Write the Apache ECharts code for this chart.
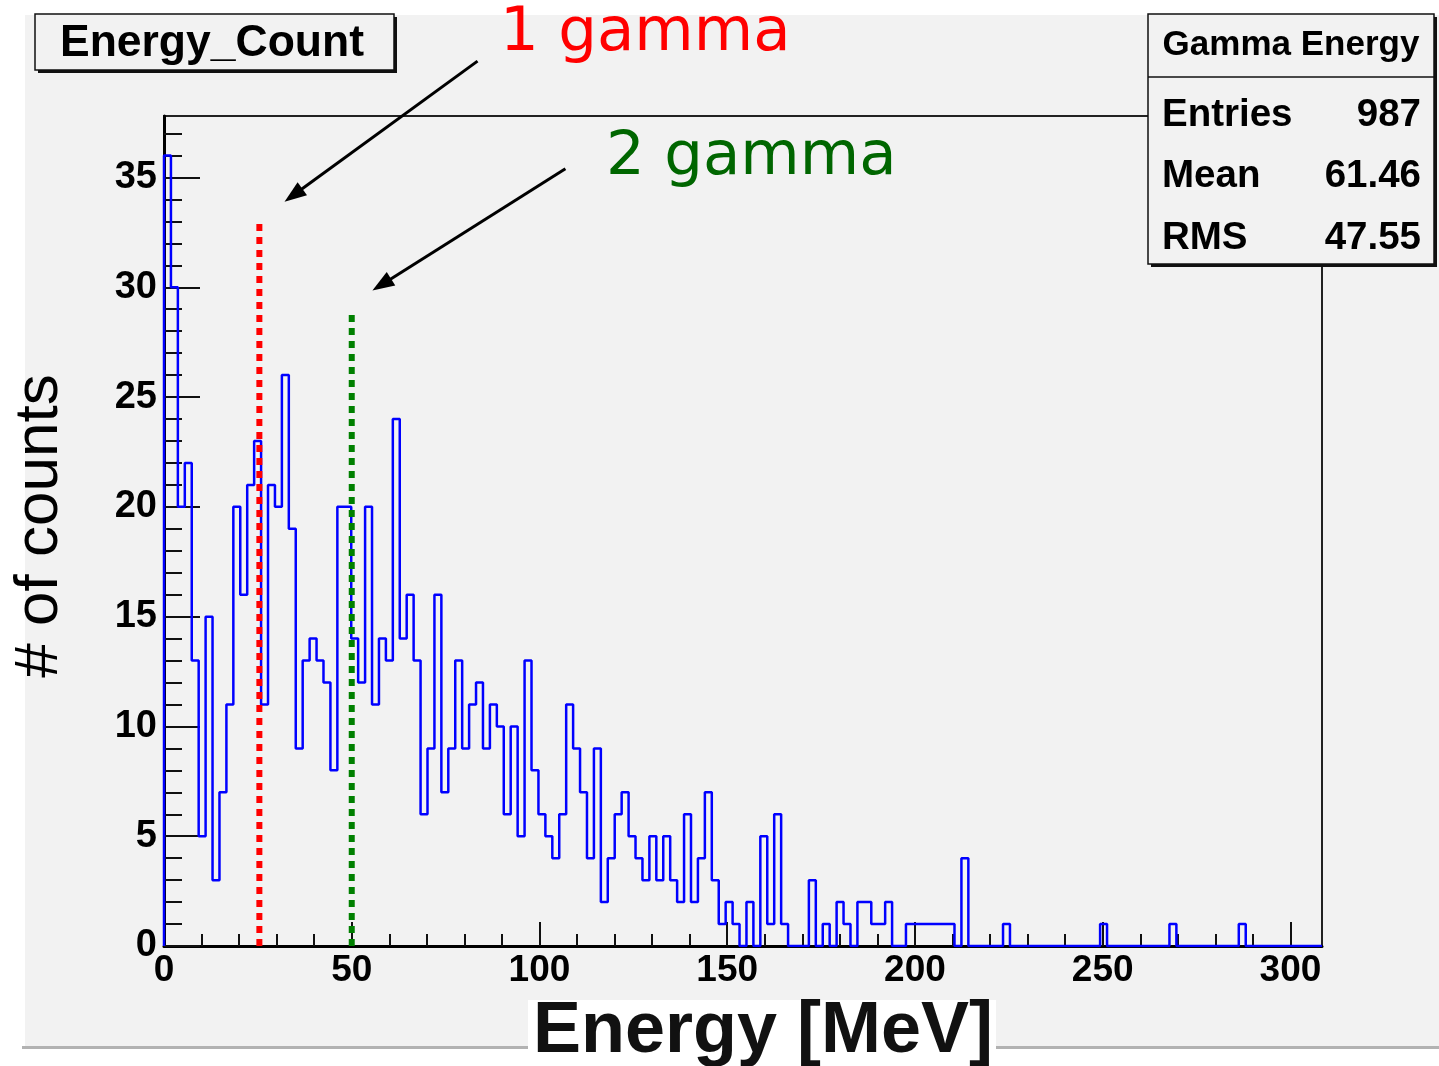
<!DOCTYPE html>
<html>
<head>
<meta charset="utf-8">
<title>Energy_Count</title>
<script src="https://cdn.jsdelivr.net/npm/echarts@6/dist/echarts.min.js"></script>
<style>
  html, body { margin: 0; padding: 0; background: #ffffff; }
  #chart { width: 1439px; height: 1066px; }
</style>
</head>
<body>
<div id="chart"></div>
<script>
// Histogram range and bin contents (counts per bin, 167 equal-width bins)
const X_MIN = 0;
const X_MAX = 308.4;
const Y_MAX = 37.8;

const counts = [
  36, 30, 20, 22, 13, 5, 15, 3, 7, 11, 20, 16, 21, 23, 11, 21, 20, 26, 19, 9,
  13, 14, 13, 12, 8, 20, 20, 14, 12, 20, 11, 14, 13, 24, 14, 16, 13, 6, 9, 16,
  7, 9, 13, 9, 11, 12, 9, 11, 10, 6, 10, 5, 13, 8, 6, 5, 4, 6, 11, 9,
  7, 4, 9, 2, 4, 6, 7, 5, 4, 3, 5, 3, 5, 3, 2, 6, 2, 4, 7, 3,
  1, 2, 1, 0, 2, 0, 5, 1, 6, 1, 0, 0, 0, 3, 0, 1, 0, 2, 1, 0,
  2, 2, 1, 1, 2, 0, 0, 1, 1, 1, 1, 1, 1, 1, 0, 4, 0, 0, 0, 0,
  0, 1, 0, 0, 0, 0, 0, 0, 0, 0, 0, 0, 0, 0, 0, 1, 0, 0, 0, 0,
  0, 0, 0, 0, 0, 1, 0, 0, 0, 0, 0, 0, 0, 0, 0, 1, 0, 0, 0, 0,
  0, 0, 0, 0, 0, 0, 0
];

// Axis ticks
const xMajorTicks = [0, 50, 100, 150, 200, 250, 300];
const xMinorTicks = [0, 10, 20, 30, 40, 50, 60, 70, 80, 90, 100, 110, 120, 130, 140, 150,
  160, 170, 180, 190, 200, 210, 220, 230, 240, 250, 260, 270, 280, 290, 300];
const yMajorTicks = [0, 5, 10, 15, 20, 25, 30, 35];
const yMinorTicks = [0, 1, 2, 3, 4, 5, 6, 7, 8, 9, 10, 11, 12, 13, 14, 15, 16, 17, 18, 19,
  20, 21, 22, 23, 24, 25, 26, 27, 28, 29, 30, 31, 32, 33, 34, 35, 36, 37];

// Marker lines for the expected 1-gamma and 2-gamma energies
const oneGammaLine = [[25.4, 0], [25.4, 33]];
const twoGammaLine = [[50, 0], [50, 29]];

// Annotation arrows (data coordinates): tail -> tip
const oneGammaArrow = { from: [83.5, 40.3], to: [32.1, 33.9] };
const twoGammaArrow = { from: [106.9, 35.4], to: [55.5, 29.85] };

// Statistics box
const statsTitle = 'Gamma Energy';
const statsLabels = ['Entries', 'Mean', 'RMS'];
const statsValues = ['987', '61.46', '47.55'];

const FONT = "'Liberation Sans', Arial, Helvetica, sans-serif";
const NOTE_FONT = "'DejaVu Sans', Verdana, sans-serif";

// Step outline points: left edge of each bin, closed down to zero on both ends
const binWidth = (X_MAX - X_MIN) / counts.length;
const histPoints = [[X_MIN, 0]];
counts.forEach((c, i) => histPoints.push([X_MIN + i * binWidth, c]));
histPoints.push([X_MIN + counts.length * binWidth, 0]);

const chart = echarts.init(document.getElementById('chart'), null, { renderer: 'canvas' });

const axisCommon = {
  type: 'value',
  splitLine: { show: false },
  axisPointer: { show: false }
};

const option = {
  animation: false,
  backgroundColor: 'transparent',
  grid: {
    left: 164, right: 117, top: 116, bottom: 120,
    show: true,
    borderColor: '#222',
    borderWidth: 2,
    backgroundColor: 'transparent'
  },
  xAxis: [
    Object.assign({}, axisCommon, {
      min: X_MIN, max: X_MAX, position: 'bottom',
      axisLine: { show: true, lineStyle: { color: '#000', width: 3 } },
      axisTick: { show: true, inside: true, length: 24, customValues: xMajorTicks,
        lineStyle: { color: '#111', width: 2 } },
      axisLabel: { show: true, customValues: xMajorTicks, margin: 6, color: '#000',
        fontFamily: FONT, fontWeight: 'bold', fontSize: 37 }
    }),
    Object.assign({}, axisCommon, {
      min: X_MIN, max: X_MAX, position: 'bottom',
      axisLine: { show: false },
      axisTick: { show: true, inside: true, length: 12, customValues: xMinorTicks,
        lineStyle: { color: '#111', width: 2 } },
      axisLabel: { show: false }
    })
  ],
  yAxis: [
    Object.assign({}, axisCommon, {
      min: 0, max: Y_MAX, position: 'left',
      axisLine: { show: true, lineStyle: { color: '#000', width: 3 } },
      axisTick: { show: true, inside: true, length: 36, customValues: yMajorTicks,
        lineStyle: { color: '#111', width: 2 } },
      axisLabel: { show: true, customValues: yMajorTicks, margin: 7, color: '#000',
        fontFamily: FONT, fontWeight: 'bold', fontSize: 38 }
    }),
    Object.assign({}, axisCommon, {
      min: 0, max: Y_MAX, position: 'left',
      axisLine: { show: false },
      axisTick: { show: true, inside: true, length: 18, customValues: yMinorTicks,
        lineStyle: { color: '#111', width: 2 } },
      axisLabel: { show: false }
    })
  ],
  series: [
    {
      name: 'Energy_Count',
      type: 'line',
      xAxisIndex: 0, yAxisIndex: 0,
      data: histPoints,
      step: 'end',
      showSymbol: false,
      symbol: 'none',
      lineStyle: { color: '#0000ff', width: 2.5 },
      z: 3
    },
    {
      name: '1 gamma',
      type: 'line',
      xAxisIndex: 0, yAxisIndex: 0,
      data: oneGammaLine,
      showSymbol: false,
      symbol: 'none',
      lineStyle: { color: '#ff0000', width: 6, type: [7, 6], cap: 'butt' },
      z: 5
    },
    {
      name: '2 gamma',
      type: 'line',
      xAxisIndex: 0, yAxisIndex: 0,
      data: twoGammaLine,
      showSymbol: false,
      symbol: 'none',
      lineStyle: { color: '#008000', width: 6, type: [7, 6], cap: 'butt' },
      z: 5
    }
  ]
};

chart.setOption(option);

const toPx = p => chart.convertToPixel({ xAxisIndex: 0, yAxisIndex: 0 }, p);

function arrowGraphic(a) {
  const tail = toPx(a.from);
  const tip = toPx(a.to);
  const dx = tip[0] - tail[0], dy = tip[1] - tail[1];
  const len = Math.sqrt(dx * dx + dy * dy);
  const ux = dx / len, uy = dy / len;
  const nx = -uy, ny = ux;
  const headLen = 22, headHalf = 8;
  const bx = tip[0] - ux * headLen, by = tip[1] - uy * headLen;
  return [
    {
      type: 'line', z: 50, silent: true,
      shape: { x1: tail[0], y1: tail[1], x2: bx + ux * 4, y2: by + uy * 4 },
      style: { stroke: '#000', lineWidth: 3 }
    },
    {
      type: 'polygon', z: 50, silent: true,
      shape: { points: [tip, [bx + nx * headHalf, by + ny * headHalf], [bx - nx * headHalf, by - ny * headHalf]] },
      style: { fill: '#000' }
    }
  ];
}

function textEl(x, y, text, font, color, align, extra) {
  return Object.assign({
    type: 'text', z: 60, silent: true, x: x, y: y,
    style: { text: text, font: font, fill: color, align: align, verticalAlign: 'middle' }
  }, extra || {});
}

const graphics = [
  // canvas background and bottom edge
  { type: 'rect', z: -10, silent: true, shape: { x: 25, y: 15, width: 1414, height: 1031 }, style: { fill: '#f2f2f2' } },
  { type: 'rect', z: -9, silent: true, shape: { x: 22, y: 1046, width: 1417, height: 3 }, style: { fill: '#b2b2b2' } },

  // x axis title on its own white panel
  { type: 'rect', z: 40, silent: true, shape: { x: 528, y: 1000, width: 468, height: 66 }, style: { fill: '#ffffff' } },
  textEl(763, 1032, 'Energy [MeV]', 'bold 72px ' + FONT, '#111', 'center'),

  // y axis title
  textEl(40, 526, '# of counts', '62px ' + FONT, '#000', 'center', { rotation: Math.PI / 2 }),

  // histogram title box
  { type: 'rect', z: 45, silent: true, shape: { x: 38, y: 17, width: 359, height: 56 }, style: { fill: '#111' } },
  { type: 'rect', z: 46, silent: true, shape: { x: 35, y: 14, width: 359, height: 56 }, style: { fill: '#f2f2f2', stroke: '#111', lineWidth: 1.5 } },
  textEl(212, 44, 'Energy_Count', 'bold 44.5px ' + FONT, '#000', 'center'),

  // statistics box
  { type: 'rect', z: 45, silent: true, shape: { x: 1151, y: 17, width: 286, height: 250 }, style: { fill: '#111' } },
  { type: 'rect', z: 46, silent: true, shape: { x: 1148, y: 14, width: 286, height: 250 }, style: { fill: '#f2f2f2', stroke: '#111', lineWidth: 1.5 } },
  { type: 'line', z: 47, silent: true, shape: { x1: 1148, y1: 77, x2: 1434, y2: 77 }, style: { stroke: '#111', lineWidth: 1.5 } },
  textEl(1291, 45, statsTitle, 'bold 35px ' + FONT, '#000', 'center'),

  // annotation labels
  textEl(500, 34, '1 gamma', '61px ' + NOTE_FONT, '#ff0000', 'left'),
  textEl(606, 158, '2 gamma', '61px ' + NOTE_FONT, '#006600', 'left')
];

const rowMid = [115, 176, 238];
statsLabels.forEach((lab, i) => {
  graphics.push(textEl(1162, rowMid[i], lab, 'bold 38.5px ' + FONT, '#000', 'left'));
  graphics.push(textEl(1421, rowMid[i], statsValues[i], 'bold 38.5px ' + FONT, '#000', 'right'));
});

arrowGraphic(oneGammaArrow).forEach(g => graphics.push(g));
arrowGraphic(twoGammaArrow).forEach(g => graphics.push(g));

chart.setOption({ graphic: { elements: graphics } });
</script>
</body>
</html>
